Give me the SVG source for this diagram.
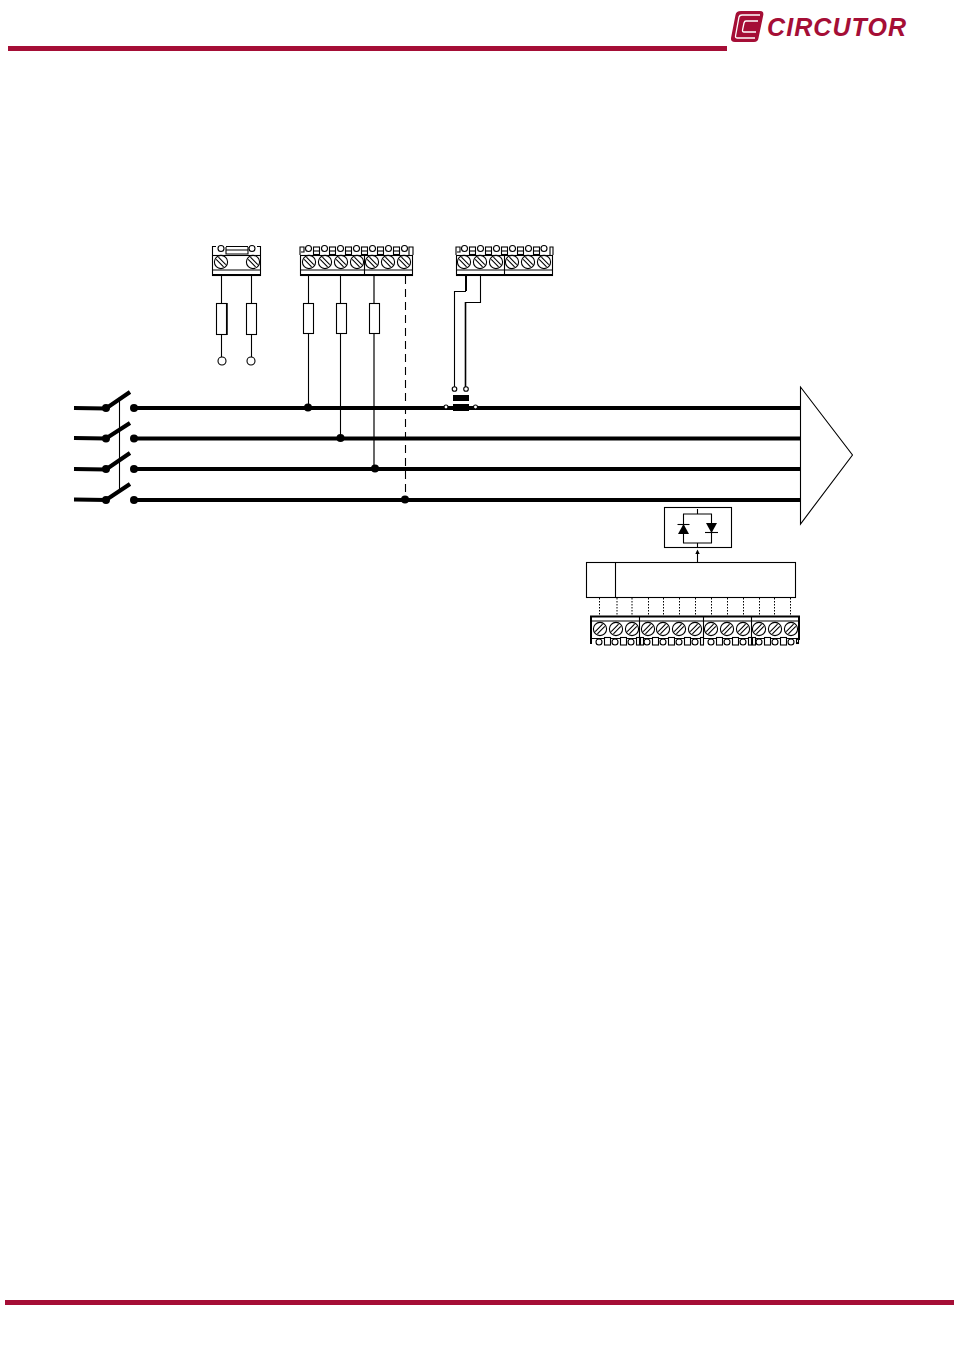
<svg xmlns="http://www.w3.org/2000/svg" xmlns:xlink="http://www.w3.org/1999/xlink" width="954" height="1350" viewBox="0 0 954 1350">
<style>
.w{fill:none;stroke:#000;stroke-width:1.1}
.wf{fill:#fff;stroke:#000;stroke-width:1.1}
.bus{fill:none;stroke:#000;stroke-width:3.8}
.sw{fill:none;stroke:#000;stroke-width:4.2}
.j{fill:#000;stroke:none}
.red{fill:#a50e36}
.bb{fill:none;stroke:#000;stroke-width:2}
</style>
<defs>
<g id="screw"><circle r="6.6" class="wf"/><path d="M-4.800 -2.600L2.600 4.800M-2.600 -4.800L4.800 2.600" class="w"/></g>
<g id="screwB"><circle r="6.6" class="wf"/><path d="M-4.800 2.600L2.600 -4.800M-2.600 4.800L4.800 -2.600" class="w"/></g>
<g id="bumps"><circle cx="8" cy="-1.500" r="3" class="wf"/><rect x="13" y="-3" width="6" height="7.500" class="wf"/><path d="M13 1H19" class="w"/></g>
</defs>
<g id="header"><rect class="red" x="8" y="46" width="719" height="5"/></g>
<g id="footer"><rect class="red" x="5" y="1300" width="949" height="5"/></g>
<g id="logo">
<path d="M741 11H760Q764 11 763.300 15L758.500 38Q758 42 754 42H735Q730.500 42 731 38L735.500 15Q736 11 741 11Z" fill="#a50e36"/>
<path d="M760 15H742Q739.500 15 739 17L735.500 36Q735.300 38 737.500 38H755" fill="none" stroke="#fff" stroke-width="1.300"/>
<path d="M758 21H746Q744.500 21 744 23L742.500 30Q742.300 32 744 32H756" fill="none" stroke="#fff" stroke-width="1.300"/>
<text x="767" y="35.500" font-family="'Liberation Sans',Arial,sans-serif" font-size="25" font-weight="bold" font-style="italic" fill="#a50e36" textLength="139" lengthAdjust="spacing">CIRCUTOR</text>
</g>
<g id="terminal-a">
<rect x="212.500" y="255.500" width="48" height="20" class="wf"/>
<path d="M212.500 270H260.500" class="w"/><path d="M212 275H261" class="bb"/>
<path d="M212.500 255V246.500H216M260.500 255V246.500H257M226 247V254H248V247M226 250H248M226 246.500H248" class="w"/>
<circle cx="221" cy="248.500" r="3" class="wf"/><circle cx="252" cy="248.500" r="3" class="wf"/>
<use xlink:href="#screw" x="221" y="262"/><use xlink:href="#screw" x="253" y="262"/>
</g>
<g id="terminal-b">
<rect x="300.500" y="255.500" width="112" height="20" class="wf"/>
<path d="M300.500 270H412.500M364.500 254V276" class="w"/><path d="M300 275H413" class="bb"/>
<path d="M300 255V247H304V252H301" class="w"/><path d="M409 255V247H413V255" class="w"/>
<use xlink:href="#bumps" x="300.500" y="250"/><use xlink:href="#bumps" x="316.500" y="250"/><use xlink:href="#bumps" x="332.500" y="250"/><use xlink:href="#bumps" x="348.500" y="250"/><use xlink:href="#bumps" x="364.500" y="250"/><use xlink:href="#bumps" x="380.500" y="250"/>
<circle cx="404.500" cy="248.500" r="3" class="wf"/>
<use xlink:href="#screw" x="309" y="262"/><use xlink:href="#screw" x="325" y="262"/><use xlink:href="#screw" x="341" y="262"/><use xlink:href="#screw" x="357" y="262"/><use xlink:href="#screw" x="372" y="262"/><use xlink:href="#screw" x="388" y="262"/><use xlink:href="#screw" x="404" y="262"/>
</g>
<g id="terminal-c">
<rect x="456.500" y="255.500" width="96" height="20" class="wf"/>
<path d="M456.500 270H552.500M504.500 254V276" class="w"/><path d="M456 275H553" class="bb"/>
<path d="M456 255V247H460V252H457" class="w"/><path d="M550 255V247H553V255" class="w"/>
<use xlink:href="#bumps" x="456.500" y="250"/><use xlink:href="#bumps" x="472.500" y="250"/><use xlink:href="#bumps" x="488.500" y="250"/><use xlink:href="#bumps" x="504.500" y="250"/><use xlink:href="#bumps" x="520.500" y="250"/>
<circle cx="544" cy="248.500" r="3" class="wf"/>
<use xlink:href="#screw" x="464" y="262"/><use xlink:href="#screw" x="480" y="262"/><use xlink:href="#screw" x="496" y="262"/><use xlink:href="#screw" x="512" y="262"/><use xlink:href="#screw" x="528" y="262"/><use xlink:href="#screw" x="544" y="262"/>
</g>
<g id="terminal-d">
<path d="M590 616.500H800M591 616V644M799 616V640" class="bb"/>
<path d="M591 621H799M639.500 616V638M703.500 616V638M751.500 616V638M591 638.500H799" class="w"/>
<g id="d-screws">
<use xlink:href="#screwB" x="600" y="629"/><use xlink:href="#screwB" x="616" y="629"/><use xlink:href="#screwB" x="632" y="629"/>
<use xlink:href="#screwB" x="648" y="629"/><use xlink:href="#screwB" x="663" y="629"/><use xlink:href="#screwB" x="679" y="629"/><use xlink:href="#screwB" x="695" y="629"/>
<use xlink:href="#screwB" x="711" y="629"/><use xlink:href="#screwB" x="727" y="629"/><use xlink:href="#screwB" x="743" y="629"/>
<use xlink:href="#screwB" x="759" y="629"/><use xlink:href="#screwB" x="775" y="629"/><use xlink:href="#screwB" x="791" y="629"/>
</g>
<g id="d-feet" fill="#fff" stroke="#000" stroke-width="1.100">
<circle cx="599" cy="642" r="3"/><rect x="604.500" y="637.500" width="6" height="7.500"/><circle cx="615" cy="642" r="3"/><rect x="620.500" y="637.500" width="6" height="7.500"/><circle cx="631" cy="642" r="3"/><rect x="636.500" y="637.500" width="3" height="7.500"/>
<rect x="640.500" y="637.500" width="3" height="7.500"/><circle cx="647" cy="642" r="3"/><rect x="652.500" y="637.500" width="6" height="7.500"/><circle cx="663" cy="642" r="3"/><rect x="668.500" y="637.500" width="6" height="7.500"/><circle cx="679" cy="642" r="3"/><rect x="684.500" y="637.500" width="6" height="7.500"/><circle cx="695" cy="642" r="3"/><rect x="700.500" y="637.500" width="3" height="7.500"/>
<circle cx="711" cy="642" r="3"/><rect x="716.500" y="637.500" width="6" height="7.500"/><circle cx="727" cy="642" r="3"/><rect x="732.500" y="637.500" width="6" height="7.500"/><circle cx="743" cy="642" r="3"/><rect x="748.500" y="637.500" width="3" height="7.500"/>
<rect x="752.500" y="637.500" width="3" height="7.500"/><circle cx="759" cy="642" r="3"/><rect x="764.500" y="637.500" width="6" height="7.500"/><circle cx="775" cy="642" r="3"/><rect x="780.500" y="637.500" width="6" height="7.500"/><circle cx="791" cy="642" r="3"/><rect x="796.500" y="638.500" width="2" height="5"/>
</g>
</g>
<g id="connectors">
<path class="w" d="M221.500 276V357M251.500 276V357"/>
<path class="w" d="M308.500 276V408M340.500 276V438"/>
<path d="M374 276V469" fill="none" stroke="#000" stroke-width="1.200"/>
<path d="M405.500 276V500" fill="none" stroke="#000" stroke-width="1.100" stroke-dasharray="8 5"/>
<path d="M466 276V291" fill="none" stroke="#000" stroke-width="2"/>
<path class="w" d="M466 291.500H454.500V387"/>
<path class="w" d="M480.500 276V302.500H465"/>
<path d="M465.500 302V387" fill="none" stroke="#000" stroke-width="1.600"/>
<path class="w" d="M119.500 397V491"/>
<path class="bus" d="M134 408H800M134 438.500H800M134 469H800M134 500H800"/>
<path class="sw" d="M74 408L106 408.500L130 392M74 438L106 438.500L130 423M74 469L106 469.500L130 453M74 499.500L106 500L130 484"/>
<path d="M697.500 562V553" class="w"/><path d="M697.500 549.500L695.300 554H699.700Z" class="j"/>
<g stroke="#000" stroke-width="1" stroke-dasharray="1.500 1.500" fill="none">
<path d="M599.500 598V615M617 598V615M632 598V615M648.500 598V615M663.500 598V615M679.500 598V615M695.500 598V615M711.500 598V615M727.500 598V615M743.500 598V615M759.500 598V615M774.500 598V615M790.500 598V615"/>
</g>
</g>
<g id="fuses">
<rect x="216.500" y="303.500" width="10" height="31" class="wf"/><path d="M227 303V335" stroke="#000" stroke-width="1.500"/>
<rect x="246.500" y="303.500" width="10" height="31" class="wf"/>
<rect x="303.500" y="303.500" width="10" height="30" class="wf"/>
<rect x="336.500" y="303.500" width="10" height="30" class="wf"/>
<rect x="369.500" y="303.500" width="10" height="30" class="wf"/>
</g>
<g id="terminals-round">
<circle cx="222" cy="361" r="4" class="wf"/><circle cx="251" cy="361" r="4" class="wf"/>
<circle cx="454.500" cy="389" r="2.300" class="wf"/><circle cx="466" cy="389" r="2.300" class="wf"/>
</g>
<g id="junctions">
<circle cx="308" cy="407.500" r="4" class="j"/><circle cx="340.500" cy="438" r="4" class="j"/><circle cx="375" cy="468.500" r="4" class="j"/><circle cx="405" cy="499.500" r="4" class="j"/>
<circle cx="134" cy="408" r="4" class="j"/><circle cx="134" cy="438.500" r="4" class="j"/><circle cx="134" cy="469" r="4" class="j"/><circle cx="134" cy="500" r="4" class="j"/>
<circle cx="106" cy="408" r="4" class="j"/><circle cx="106" cy="438.500" r="4" class="j"/><circle cx="106" cy="469" r="4" class="j"/><circle cx="106" cy="500" r="4" class="j"/>
</g>
<g id="ct">
<rect x="453" y="395" width="16" height="6" class="j"/><rect x="453" y="404" width="16" height="7" class="j"/>
<circle cx="446" cy="407" r="2" class="wf"/><circle cx="475.500" cy="407" r="2" class="wf"/>
</g>
<g id="load"><path d="M800.500 387L852.500 455L800.500 524Z" class="wf"/></g>
<g id="thyristor">
<rect x="664.500" y="507.500" width="67" height="40" class="wf"/>
<path d="M697.500 509V514M683.500 514H711.500V543H683.500ZM697.500 543V547" class="w"/>
<path d="M683.500 524L678 534H689Z" class="j"/><path d="M677.500 524.500H689.500" class="w"/>
<path d="M711.500 533L706 523H717Z" class="j"/><path d="M705 532.500H718" class="w"/>
</g>
<g id="controller">
<rect x="586.500" y="562.500" width="209" height="35" class="wf"/><path d="M615.500 562V598" class="w"/>
</g>
</svg>
